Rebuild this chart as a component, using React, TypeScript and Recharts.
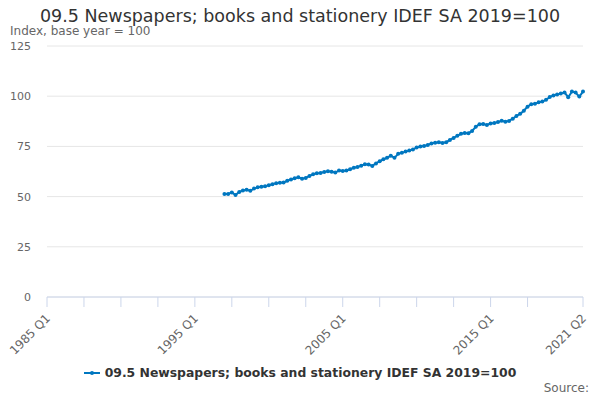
import { LineChart, Line, XAxis, YAxis, CartesianGrid } from "recharts";

// quarters counted from 1985 Q1 (index 0); series starts 1997 Q1 (index 48)
const startQuarter = 48;
const values = [
  51.3, 51.3, 52.1, 50.8, 52.3, 53.0, 53.4, 52.9, 54.0, 54.6,
  54.9, 55.1, 55.7, 56.2, 56.7, 56.9, 57.0, 57.9, 58.5, 59.2,
  59.6, 58.9, 59.3, 60.3, 61.1, 61.6, 61.8, 62.3, 62.6, 62.4,
  62.0, 63.0, 62.7, 63.0, 63.6, 64.4, 64.7, 65.4, 66.1, 66.0,
  65.3, 66.5, 67.6, 68.6, 69.3, 70.4, 69.3, 71.3, 71.8, 72.4,
  72.9, 73.5, 74.4, 74.9, 75.2, 75.7, 76.5, 76.8, 77.1, 76.7,
  77.1, 78.2, 79.2, 80.3, 81.3, 81.7, 81.6, 82.7, 84.8, 86.0,
  86.2, 85.7, 86.4, 86.7, 87.1, 87.8, 87.3, 87.7, 88.8, 90.2,
  91.2, 92.8, 94.8, 96.0, 96.2, 97.0, 97.3, 98.2, 99.6, 100.4,
  100.8, 101.3, 101.9, 99.5, 102.3, 101.8, 99.8, 102.3,
];
const xTicks = [0, 10, 20, 30, 40, 50, 60, 70, 80, 90, 100, 110, 120, 130, 145];
const labelledTicks = [0, 40, 80, 120, 145];
const yTicks = [0, 25, 50, 75, 100, 125];

const title = "09.5 Newspapers; books and stationery IDEF SA 2019=100";
const lineColor = "#0077c0";
const font = "'DejaVu Sans', sans-serif";

const data = values.map((v, i) => ({ q: startQuarter + i, value: v }));

const quarterLabel = (q: number) =>
  `${1985 + Math.floor(q / 4)} Q${(q % 4) + 1}`;

function XTick(props: any) {
  const { x, y, payload } = props;
  if (!labelledTicks.includes(payload.value)) return null;
  const ax = x + 4;
  const ay = y + 10;
  return (
    <text
      x={ax}
      y={ay}
      transform={`rotate(-45 ${ax} ${ay})`}
      textAnchor="end"
      fontSize={12}
      fill="#666"
      fontFamily={font}
    >
      {quarterLabel(payload.value)}
    </text>
  );
}

export default function App() {
  return (
    <div
      style={{
        position: "absolute",
        left: 0,
        top: 0,
        width: 600,
        height: 400,
        fontFamily: font,
        background: "#fff",
      }}
    >
      <div
        style={{
          position: "absolute",
          top: 6,
          width: 600,
          textAlign: "center",
          fontSize: 17.5,
          color: "#333",
        }}
      >
        {title}
      </div>
      <div
        style={{
          position: "absolute",
          top: 24,
          left: 10,
          fontSize: 12,
          color: "#666",
        }}
      >
        Index, base year = 100
      </div>
      <LineChart
        width={600}
        height={400}
        data={data}
        margin={{ top: 46, right: 17, left: 0, bottom: 0 }}
      >
        <CartesianGrid vertical={false} stroke="#e6e6e6" />
        <XAxis
          dataKey="q"
          type="number"
          domain={[0, 145]}
          ticks={xTicks}
          interval={0}
          height={103}
          stroke="#ccd6eb"
          tickSize={10}
          tick={<XTick />}
        />
        <YAxis
          domain={[0, 125]}
          ticks={yTicks}
          width={47}
          axisLine={false}
          tickLine={false}
          tickSize={0}
          tickMargin={16}
          tick={{ fill: "#666", fontSize: 11, fontFamily: font }}
        />
        <Line
          dataKey="value"
          stroke={lineColor}
          strokeWidth={2}
          dot={{ r: 2, fill: lineColor, stroke: lineColor, strokeWidth: 0 }}
          isAnimationActive={false}
        />
      </LineChart>
      <div
        style={{
          position: "absolute",
          top: 365,
          width: 600,
          display: "flex",
          justifyContent: "center",
          alignItems: "center",
          fontSize: 12.4,
          fontWeight: "bold",
          color: "#333",
        }}
      >
        <svg width={16} height={10} style={{ marginRight: 5 }}>
          <line x1={0} y1={5} x2={16} y2={5} stroke={lineColor} strokeWidth={2} />
          <circle cx={8} cy={5} r={2} fill={lineColor} />
        </svg>
        {title}
      </div>
      <div
        style={{
          position: "absolute",
          top: 381,
          right: 11,
          fontSize: 12,
          color: "#666",
        }}
      >
        Source:
      </div>
    </div>
  );
}
